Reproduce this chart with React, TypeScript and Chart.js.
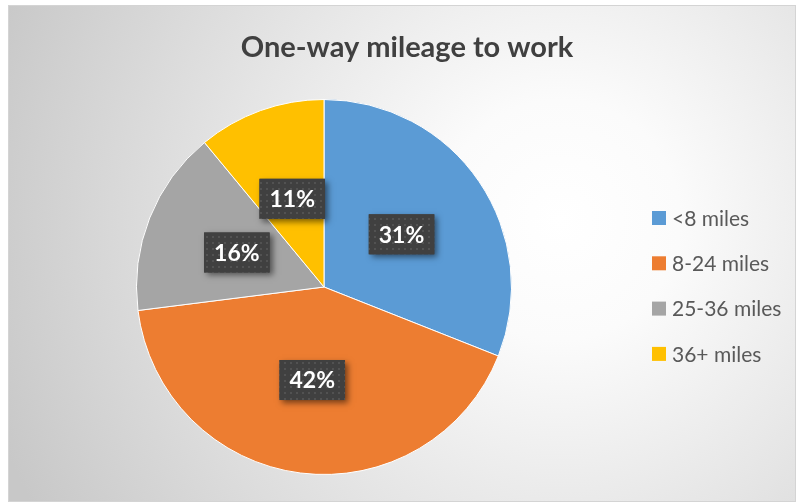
import React, { useEffect, useRef } from "react";
import { Chart, registerables } from "chart.js";

Chart.register(...registerables);

const title = "One-way mileage to work";
const categories = ["<8 miles", "8-24 miles", "25-36 miles", "36+ miles"];
const shares = [31, 42, 16, 11];
const colors = ["#5B9BD5", "#ED7D31", "#A5A5A5", "#FFC000"];

const FONT = "Lato, 'Open Sans', sans-serif";

function makePattern(ctx: CanvasRenderingContext2D) {
  const c = document.createElement("canvas");
  c.width = 6;
  c.height = 6;
  const p = c.getContext("2d")!;
  p.fillStyle = "#404040";
  p.fillRect(0, 0, 6, 6);
  p.fillStyle = "#525252";
  p.fillRect(2, 2, 2, 2);
  return ctx.createPattern(c, "repeat");
}

const backgroundPlugin = {
  id: "bgPlugin",
  beforeDraw(chart: any) {
    const ctx = chart.ctx as CanvasRenderingContext2D;
    ctx.save();
    ctx.fillStyle = "#ffffff";
    ctx.fillRect(0, 0, chart.width, chart.height);
    const g = ctx.createRadialGradient(560, 220, 0, 560, 220, 600);
    g.addColorStop(0, "#ffffff");
    g.addColorStop(0.2, "#fbfbfb");
    g.addColorStop(1, "#c8c8c8");
    ctx.fillStyle = g;
    ctx.fillRect(8, 5, 788, 497);
    ctx.strokeStyle = "#d4d4d4";
    ctx.lineWidth = 1;
    ctx.strokeRect(8.5, 5.5, 787, 496);
    ctx.fillStyle = "#404040";
    ctx.font = `bold 29px ${FONT}`;
    ctx.textAlign = "center";
    ctx.textBaseline = "alphabetic";
    ctx.fillText(title, 407, 57);
    ctx.restore();
  },
};

const labelPlugin = {
  id: "labelPlugin",
  afterDatasetsDraw(chart: any) {
    const ctx = chart.ctx as CanvasRenderingContext2D;
    const meta = chart.getDatasetMeta(0);
    const data = chart.data.datasets[0].data as number[];
    const total = data.reduce((a, b) => a + b, 0);
    const pattern = makePattern(ctx);
    meta.data.forEach((arc: any, i: number) => {
      const { x, y } = arc.getCenterPoint();
      const text = Math.round((data[i] / total) * 100) + "%";
      ctx.save();
      ctx.font = `bold 23px ${FONT}`;
      const tw = ctx.measureText(text).width;
      const bw = tw + 20;
      const bh = 40;
      ctx.shadowColor = "rgba(0,0,0,0.5)";
      ctx.shadowBlur = 6;
      ctx.shadowOffsetX = 3;
      ctx.shadowOffsetY = 3;
      ctx.fillStyle = "#404040";
      ctx.fillRect(x - bw / 2, y - bh / 2, bw, bh);
      ctx.shadowColor = "transparent";
      ctx.fillStyle = pattern || "#404040";
      ctx.fillRect(x - bw / 2, y - bh / 2, bw, bh);
      ctx.fillStyle = "#ffffff";
      ctx.textAlign = "center";
      ctx.textBaseline = "middle";
      ctx.fillText(text, x, y + 1);
      ctx.restore();
    });
  },
  afterDraw(chart: any) {
    const ctx = chart.ctx as CanvasRenderingContext2D;
    const labels = chart.data.labels as string[];
    const bg = chart.data.datasets[0].backgroundColor as string[];
    ctx.save();
    ctx.font = `21px ${FONT}`;
    ctx.textAlign = "left";
    ctx.textBaseline = "middle";
    labels.forEach((lab, i) => {
      const y = 218 + i * 45.3;
      ctx.fillStyle = bg[i];
      ctx.fillRect(652, y - 7, 14, 14);
      ctx.fillStyle = "#595959";
      ctx.fillText(lab, 672, y + 1);
    });
    ctx.restore();
  },
};

export default function App() {
  const ref = useRef<HTMLCanvasElement | null>(null);
  useEffect(() => {
    if (!ref.current) return;
    const chart = new Chart(ref.current, {
      type: "pie",
      data: {
        labels: categories,
        datasets: [
          {
            data: shares,
            backgroundColor: colors,
            borderColor: "#ffffff",
            borderWidth: 1,
          },
        ],
      },
      options: {
        responsive: false,
        animation: false,
        devicePixelRatio: 1,
        rotation: 0,
        layout: { padding: { left: 136, right: 290, top: 99, bottom: 29 } },
        plugins: {
          legend: { display: false },
          tooltip: { enabled: false },
          title: { display: false },
        },
      },
      plugins: [backgroundPlugin, labelPlugin],
    });
    return () => chart.destroy();
  }, []);
  return (
    <div style={{ position: "fixed", left: 0, top: 0, width: 802, height: 504 }}>
      <canvas ref={ref} width={802} height={504} style={{ display: "block" }} />
    </div>
  );
}
